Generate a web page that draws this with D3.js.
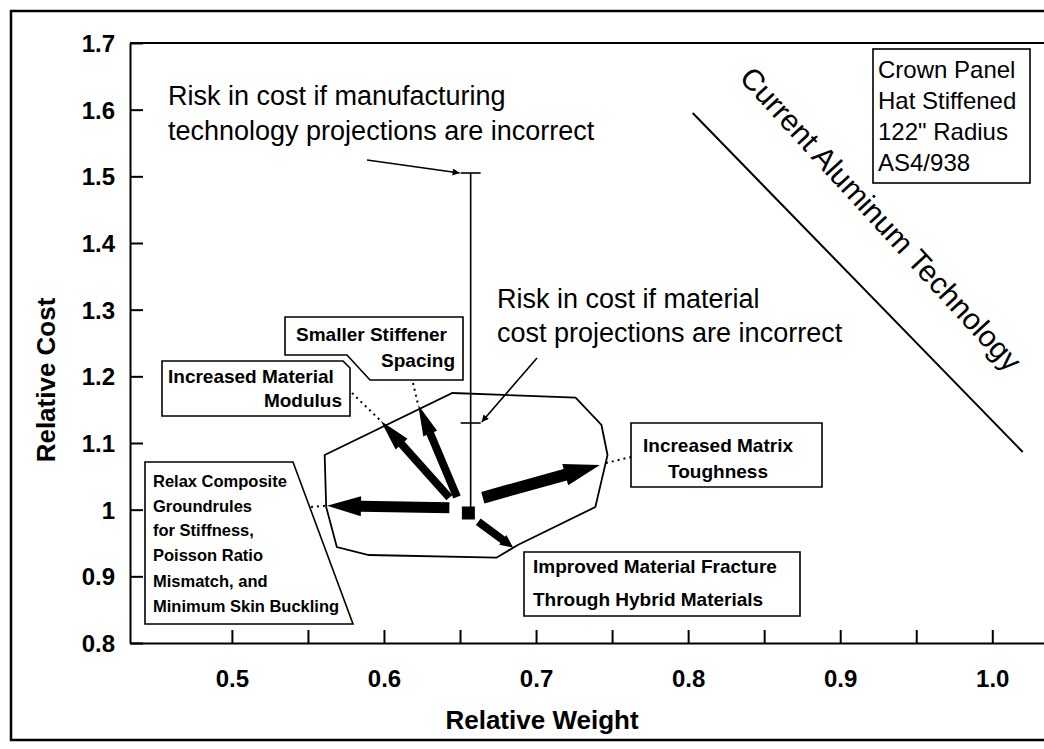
<!DOCTYPE html>
<html>
<head>
<meta charset="utf-8">
<script src="https://cdn.jsdelivr.net/npm/d3@7"></script>
<style>
  body { margin: 0; background: #fff; }
  svg { display: block; }
  text { font-family: "Liberation Sans", Arial, Helvetica, sans-serif; fill: #000; }
</style>
</head>
<body>
<div id="chart"></div>
<script>
/*
 * chart data
 */
const weightTicks = [0.5, 0.55, 0.6, 0.65, 0.7, 0.75, 0.8, 0.85, 0.9, 0.95, 1.0]
const weightLabels = [0.5, 0.6, 0.7, 0.8, 0.9, 1.0]
const costTicks = [0.8, 0.9, 1.0, 1.1, 1.2, 1.3, 1.4, 1.5, 1.6, 1.7]

// outline of the design region around the baseline panel
const regionWeight = [0.561, 0.645, 0.726, 0.743, 0.747, 0.739, 0.688, 0.674, 0.590, 0.569, 0.562]
const regionCost = [1.082, 1.175, 1.168, 1.127, 1.082, 1.004, 0.947, 0.928, 0.932, 0.944, 1.004]

// baseline design point
const baseWeight = 0.6555
const baseCost = 0.995

// cost risk bar: baseline, material risk, manufacturing risk
const riskWeight = 0.657
const riskCost = [1.0, 1.13, 1.505]

// technology trend arrows
const trendNames = ['Relax Composite Groundrules', 'Increased Material Modulus', 'Smaller Stiffener Spacing',
  'Increased Matrix Toughness', 'Improved Material Fracture']
const trendFromWeight = [0.643, 0.643, 0.648, 0.665, 0.662]
const trendFromCost = [1.003, 1.018, 1.019, 1.018, 0.982]
const trendToWeight = [0.5625, 0.598, 0.6225, 0.742, 0.685]
const trendToCost = [1.006, 1.133, 1.157, 1.067, 0.943]

// current aluminum technology line
const aluminumWeight = [0.803, 1.020]
const aluminumCost = [1.595, 1.0865]

const legendLines = ['Crown Panel', 'Hat Stiffened', '122" Radius', 'AS4/938']

/*
 * Initialize SVG
 */
const w = 1044
const h = 749
const svg = d3.select('#chart')
  .append('svg')
  .attr('width', w)
  .attr('height', h)

const x = d3.scaleLinear().domain([0.433, 1.034]).range([130, 1044])
const y = d3.scaleLinear().domain([0.8, 1.7]).range([643, 43])

svg.append('defs').append('marker')
  .attr('id', 'thin-head')
  .attr('viewBox', '0 0 10 10')
  .attr('refX', 10)
  .attr('refY', 5)
  .attr('markerWidth', 10)
  .attr('markerHeight', 7)
  .attr('markerUnits', 'userSpaceOnUse')
  .attr('orient', 'auto')
  .append('path')
  .attr('d', 'M0,0L10,5L0,10Z')
  .style('fill', '#000')

// outer frame
svg.append('rect')
  .attr('x', 11).attr('y', 11)
  .attr('width', 1060).attr('height', 729)
  .style('fill', 'none')
  .style('stroke', '#000')
  .style('stroke-width', 2.5)

// top border of the plot
svg.append('line')
  .attr('x1', 130).attr('x2', w)
  .attr('y1', y(1.7)).attr('y2', y(1.7))
  .style('stroke', '#000')
  .style('stroke-width', 2)

/*
 * Axes
 */
const xAxis = svg.append('g')
  .attr('transform', `translate(0,${y(0.8)})`)
  .call(d3.axisBottom(x)
    .tickValues(weightTicks)
    .tickSize(-13)
    .tickSizeOuter(0)
    .tickPadding(27)
    .tickFormat(d => weightLabels.some(v => Math.abs(v - d) < 1e-9) ? d.toFixed(1) : ''))

const yAxis = svg.append('g')
  .attr('transform', `translate(${x.range()[0]},0)`)
  .call(d3.axisLeft(y)
    .tickValues(costTicks)
    .tickSize(-13)
    .tickSizeOuter(0)
    .tickPadding(15)
    .tickFormat(d => Math.abs(d - 1) < 1e-9 ? '1' : d.toFixed(1)))

;[xAxis, yAxis].forEach(g => {
  g.selectAll('.domain, .tick line')
    .style('stroke', '#000')
    .style('stroke-width', 2)
  g.selectAll('text')
    .style('font-family', '"Liberation Sans", Arial, sans-serif')
    .style('font-size', '24px')
    .style('font-weight', 'bold')
})
yAxis.selectAll('text').attr('dy', '0.36em')

svg.append('text')
  .attr('x', 542).attr('y', 729)
  .attr('text-anchor', 'middle')
  .style('font-size', '26px')
  .style('font-weight', 'bold')
  .text('Relative Weight')

svg.append('text')
  .attr('transform', 'translate(55,380) rotate(-90)')
  .attr('text-anchor', 'middle')
  .style('font-size', '26px')
  .style('font-weight', 'bold')
  .text('Relative Cost')

/*
 * Design region and risk bar
 */
svg.append('path')
  .datum(regionWeight.map((d, i) => [x(d), y(regionCost[i])]))
  .attr('d', d => d3.line()(d) + 'Z')
  .style('fill', 'none')
  .style('stroke', '#000')
  .style('stroke-width', 1.8)

const rx = x(riskWeight)
svg.append('line')
  .attr('x1', rx).attr('x2', rx)
  .attr('y1', y(riskCost[0])).attr('y2', y(riskCost[2]))
  .style('stroke', '#000')
  .style('stroke-width', 1.6)

riskCost.slice(1).forEach(c => {
  svg.append('line')
    .attr('x1', rx - 10).attr('x2', rx + 10)
    .attr('y1', y(c)).attr('y2', y(c))
    .style('stroke', '#000')
    .style('stroke-width', 1.6)
})

svg.append('rect')
  .attr('x', x(baseWeight) - 6.5).attr('y', y(baseCost) - 6.5)
  .attr('width', 13).attr('height', 13)
  .style('fill', '#000')

/*
 * Trend arrows
 */
function arrowShape(x1, y1, x2, y2, sw, hl, hw) {
  const len = Math.hypot(x2 - x1, y2 - y1)
  const ux = (x2 - x1) / len
  const uy = (y2 - y1) / len
  const nx = -uy
  const ny = ux
  const bx = x2 - ux * hl
  const by = y2 - uy * hl
  const pts = [
    [x1 + nx * sw / 2, y1 + ny * sw / 2],
    [bx + nx * sw / 2, by + ny * sw / 2],
    [bx + nx * hw / 2, by + ny * hw / 2],
    [x2, y2],
    [bx - nx * hw / 2, by - ny * hw / 2],
    [bx - nx * sw / 2, by - ny * sw / 2],
    [x1 - nx * sw / 2, y1 - ny * sw / 2]
  ]
  return d3.line()(pts) + 'Z'
}

const arrowStyle = [
  { sw: 11, hl: 34, hw: 20 },
  { sw: 8, hl: 31, hw: 16 },
  { sw: 8, hl: 31, hw: 15 },
  { sw: 12, hl: 36, hw: 22 },
  { sw: 8, hl: 13, hw: 12 }
]

svg.append('g')
  .selectAll('path')
  .data(trendNames)
  .enter()
  .append('path')
  .attr('d', (d, i) => arrowShape(x(trendFromWeight[i]), y(trendFromCost[i]),
    x(trendToWeight[i]), y(trendToCost[i]),
    arrowStyle[i].sw, arrowStyle[i].hl, arrowStyle[i].hw))
  .style('fill', '#000')

/*
 * Callout boxes
 */
function callout(points, lines, size) {
  svg.append('path')
    .attr('d', d3.line()(points) + 'Z')
    .style('fill', '#fff')
    .style('stroke', '#000')
    .style('stroke-width', 1.6)
  lines.forEach(l => {
    svg.append('text')
      .attr('x', l.x).attr('y', l.y)
      .attr('text-anchor', l.anchor || 'start')
      .style('font-size', size + 'px')
      .style('font-weight', 'bold')
      .text(l.t)
  })
}

function leader(x1, y1, x2, y2) {
  svg.append('line')
    .attr('x1', x1).attr('y1', y1)
    .attr('x2', x2).attr('y2', y2)
    .style('stroke', '#000')
    .style('stroke-width', 2)
    .style('stroke-dasharray', '2,4')
}

callout([[285, 317], [463, 317], [463, 380], [370, 380], [347, 355], [285, 355]],
  [{ t: 'Smaller Stiffener', x: 296, y: 341 }, { t: 'Spacing', x: 455, y: 367, anchor: 'end' }], 19)
leader(413, 383, x(trendToWeight[2]), y(trendToCost[2]))

callout([[162, 361], [343, 361], [350, 368], [350, 416], [162, 416]],
  [{ t: 'Increased Material', x: 168, y: 383 }, { t: 'Modulus', x: 342, y: 407, anchor: 'end' }], 19)
leader(352, 393, x(trendToWeight[1]), y(trendToCost[1]))

callout([[145, 462], [293, 462], [353, 624], [145, 624]],
  ['Relax Composite', 'Groundrules', 'for Stiffness,', 'Poisson Ratio', 'Mismatch, and', 'Minimum Skin Buckling']
    .map((t, i) => ({ t: t, x: 153, y: [487, 512, 536, 561, 587, 612][i] })), 16.5)
leader(311, 507, x(trendToWeight[0]), y(trendToCost[0]))

callout([[631, 423], [822, 423], [822, 487], [631, 487]],
  [{ t: 'Increased Matrix', x: 718, y: 452, anchor: 'middle' }, { t: 'Toughness', x: 718, y: 478, anchor: 'middle' }], 19)
leader(x(trendToWeight[3]) + 6, y(trendToCost[3]) - 2, 631, 457)

callout([[524, 552], [800, 552], [800, 616], [524, 616]],
  [{ t: 'Improved Material Fracture', x: 533, y: 573 }, { t: 'Through Hybrid Materials', x: 533, y: 606 }], 19)

/*
 * Risk annotations
 */
function riskNote(lines, x0, ys) {
  lines.forEach((t, i) => {
    svg.append('text')
      .attr('x', x0).attr('y', ys[i])
      .style('font-size', '27px')
      .text(t)
  })
}

riskNote(['Risk in cost if manufacturing', 'technology projections are incorrect'], 168, [105, 140])
svg.append('line')
  .attr('x1', 367).attr('y1', 160)
  .attr('x2', rx - 11).attr('y2', y(riskCost[2]))
  .attr('marker-end', 'url(#thin-head)')
  .style('stroke', '#000')
  .style('stroke-width', 1.6)

riskNote(['Risk in cost if material', 'cost projections are incorrect'], 497, [308, 342])
svg.append('line')
  .attr('x1', 537).attr('y1', 358)
  .attr('x2', rx + 11).attr('y2', y(riskCost[1]) - 1)
  .attr('marker-end', 'url(#thin-head)')
  .style('stroke', '#000')
  .style('stroke-width', 1.6)

/*
 * Aluminum technology line and legend box
 */
svg.append('line')
  .attr('x1', x(aluminumWeight[0])).attr('y1', y(aluminumCost[0]))
  .attr('x2', x(aluminumWeight[1])).attr('y2', y(aluminumCost[1]))
  .style('stroke', '#000')
  .style('stroke-width', 2)

svg.append('text')
  .attr('transform', 'translate(881,219) rotate(47.5)')
  .attr('text-anchor', 'middle')
  .attr('dy', '0.35em')
  .style('font-size', '30px')
  .text('Current Aluminum Technology')

svg.append('rect')
  .attr('x', 873).attr('y', 49)
  .attr('width', 157).attr('height', 134)
  .style('fill', '#fff')
  .style('stroke', '#000')
  .style('stroke-width', 1.6)

svg.append('g')
  .selectAll('text')
  .data(legendLines)
  .enter()
  .append('text')
  .attr('x', 878)
  .attr('y', (d, i) => 78 + i * 31)
  .style('font-size', '24px')
  .text(d => d)
</script>
</body>
</html>
